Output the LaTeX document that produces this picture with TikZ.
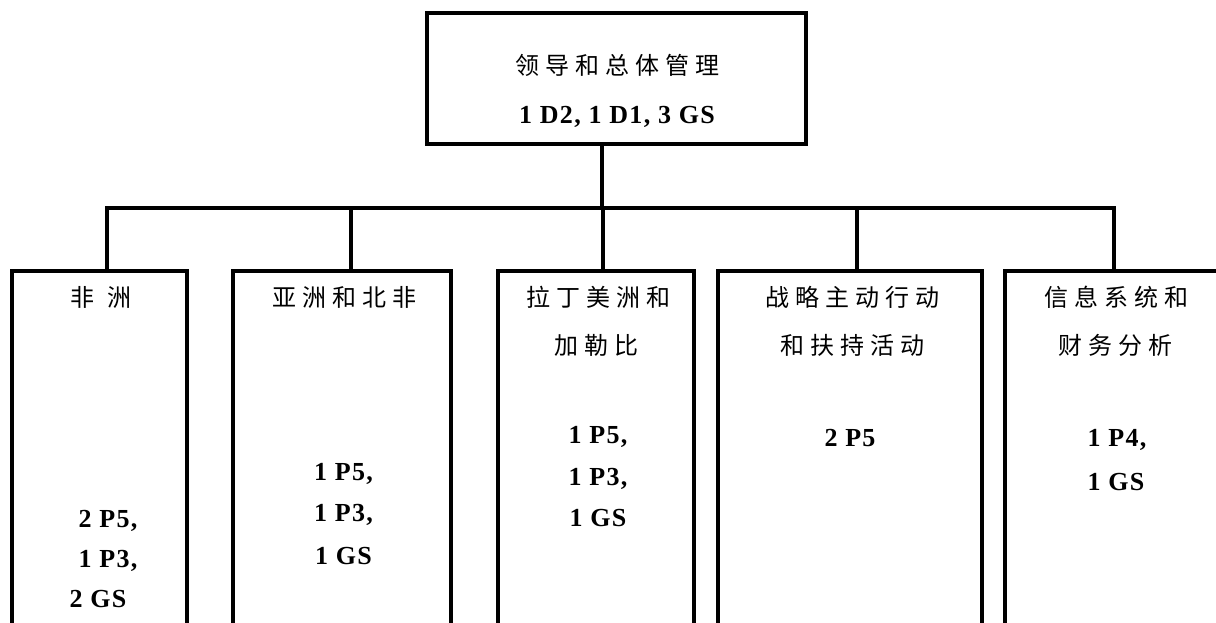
\documentclass[tikz,border=0pt]{standalone}
\usepackage{fontspec}
\newfontfamily\cjk[LetterSpace=25]{Noto Sans CJK SC}
\newfontfamily\lat[LetterSpace=5]{Liberation Serif}
\begin{document}
\begin{tikzpicture}[x=1pt,y=-1pt]
\tikzset{
  ln/.style={line width=4pt, line cap=rect},
  zh/.style={anchor=base, inner sep=0pt, font=\cjk\fontsize{24pt}{28pt}\selectfont},
  num/.style={anchor=base, inner sep=0pt, font=\lat\bfseries\fontsize{26pt}{30pt}\selectfont},
  unitbox/.style={rectangle, inner sep=0pt, minimum height=400pt, minimum width=#1}
}
\useasboundingbox (0,0) rectangle (1216,622);
\clip (0,0) rectangle (1216,622);

% top box
\node[draw, line width=4pt, rectangle, inner sep=0pt, minimum width=379pt, minimum height=131pt] (top) at (616.5,78.5) {};
\node[zh] (topzh) at (617,74) {领导和总体管理};
\node[num] (topnum) at (617,123) {1 D2, 1 D1, 3 GS};

% bottom boxes (open at the bottom)
\node[unitbox=175pt] (b1) at (99.5,471) {};
\node[unitbox=218pt] (b2) at (342,471) {};
\node[unitbox=196pt] (b3) at (596,471) {};
\node[unitbox=264pt] (b4) at (850,471) {};
\node[unitbox=218pt] (b5) at (1114,471) {};
\foreach \b in {b1,b2,b3,b4,b5}{
  \draw[ln, line cap=butt] (\b.south west) -- (\b.north west) -- (\b.north east) -- (\b.south east);
}

% connectors
\coordinate (j) at (602,208);
\coordinate (d1) at (107,208);
\coordinate (d2) at (351,208);
\coordinate (d3) at (603,208);
\coordinate (d4) at (857,208);
\coordinate (d5) at (1114,208);
\draw[ln, line cap=butt] (top.south -| j) -- (j);
\draw[ln] (d1) -- (d5);
\foreach \d/\b in {d1/b1,d2/b2,d3/b3,d4/b4,d5/b5}{
  \draw[ln, line cap=butt] (\d) -- (\d |- \b.north);
}

% texts
\node[zh] (h1) at (101,306) {非\hspace{14pt}洲};
\node[num] (n1a) at (108,527.5) {2 P5,};
\node[num] (n1b) at (108,567.5) {1 P3,};
\node[num] (n1c) at (98,607.5) {2 GS};

\node[zh] (h2) at (344,306) {亚洲和北非};
\node[num] (n2a) at (343.5,480.5) {1 P5,};
\node[num] (n2b) at (343.5,521.5) {1 P3,};
\node[num] (n2c) at (343.5,564.5) {1 GS};

\node[zh] (h3a) at (598,306) {拉丁美洲和};
\node[zh] (h3b) at (596,354) {加勒比};
\node[num] (n3a) at (598,443.5) {1 P5,};
\node[num] (n3b) at (598,485.5) {1 P3,};
\node[num] (n3c) at (598,526.5) {1 GS};

\node[zh] (h4a) at (852,306.5) {战略主动行动};
\node[zh] (h4b) at (852,354.5) {和扶持活动};
\node[num] (n4a) at (850,446.5) {2 P5};

\node[zh] (h5a) at (1116,306.5) {信息系统和};
\node[zh] (h5b) at (1115,354.5) {财务分析};
\node[num] (n5a) at (1117,446.5) {1 P4,};
\node[num] (n5b) at (1116,490.5) {1 GS};
\end{tikzpicture}
\end{document}
